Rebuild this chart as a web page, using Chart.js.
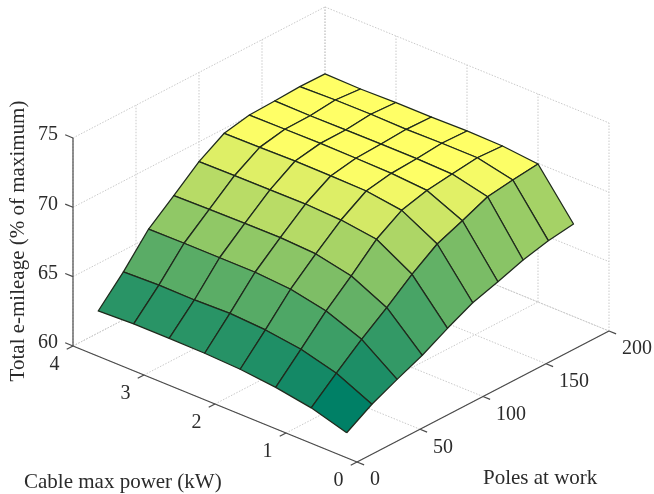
<!DOCTYPE html>
<html>
<head>
<meta charset="utf-8">
<title>Total e-mileage surface</title>
<script src="https://cdn.jsdelivr.net/npm/chart.js@4"></script>
<style>
    html, body { margin: 0; padding: 0; background: #fff; }
    canvas { display: block; }
</style>
</head>
<body>
<canvas id="surface-graph" width="654" height="494"></canvas>
<script>
const polesAtWork = [20, 40, 60, 80, 100, 120, 140, 160, 180, 200]
const cablePower = [0.5, 1, 1.5, 2, 2.5, 3, 3.5, 4]

// one row per cable power, one column per poles value
const power05 = [60.12, 61.23, 62.08, 62.87, 63.87, 64.77, 65.34, 65.96, 66.41, 66.67]
const power10 = [60.87, 62.42, 63.92, 65.26, 66.72, 67.96, 68.69, 69.48, 69.74, 69.95]
const power15 = [61.30, 63.10, 64.92, 66.50, 68.20, 69.34, 69.83, 70.07, 70.30, 70.20]
const power20 = [61.56, 63.45, 65.44, 67.04, 68.54, 69.69, 70.02, 70.13, 70.30, 70.24]
const power25 = [61.67, 63.60, 65.62, 67.17, 68.65, 69.73, 70.06, 70.14, 70.26, 70.20]
const power30 = [61.70, 63.52, 65.62, 67.16, 68.62, 69.76, 70.09, 70.11, 70.30, 70.20]
const power35 = [61.69, 63.55, 65.62, 67.12, 68.60, 69.70, 70.06, 70.09, 70.28, 70.13]
const power40 = [61.58, 63.45, 65.60, 67.06, 68.57, 69.67, 70.04, 70.11, 70.20, 70.17]
const mileage = [power05, power10, power15, power20, power25, power30, power35, power40]

const polesTicks = [0, 50, 100, 150, 200]
const powerTicks = [0, 1, 2, 3, 4]
const mileageTicks = [60, 65, 70, 75]

const polesTitle = "Poles at work"
const powerTitle = "Cable max power (kW)"
const mileageTitle = "Total e-mileage (% of maximum)"

const font = '"Liberation Serif", "Times New Roman", serif'

// orthographic view of the 3D box, chart units are canvas pixels
function project(poles, power, z) {
    return {
        x: 357 + poles * 1.26 - power * 71,
        y: 462 - poles * 0.655 - power * 29 - (z - 60) * 13.87
    }
}

// matlab "summer" colormap, the top of the surface saturates to plain yellow
function summer(z, zMin, zMax) {
    let t = Math.min(1, (z - zMin) / (zMax - zMin))
    return `rgb(${Math.round(255 * t)}, ${Math.round(127.5 + 127.5 * t)}, 102)`
}

function lineSet(points, color, width, dash) {
    return {
        data: points,
        showLine: true,
        fill: false,
        pointRadius: 0,
        borderColor: color,
        borderWidth: width,
        borderDash: dash || [],
        borderCapStyle: "butt",
        tension: 0
    }
}

function gridLine(a, b) {
    return lineSet([project(...a), project(...b)], "#c9c9c9", 1, [1.5, 1.5])
}

function axisLine(a, b) {
    return lineSet([project(...a), project(...b)], "#4a4a4a", 1.2)
}

function buildGrid() {
    let sets = []
    mileageTicks.forEach((z) => {
        sets.push(gridLine([0, 4, z], [200, 4, z]))
        sets.push(gridLine([200, 4, z], [200, 0, z]))
    })
    polesTicks.forEach((p) => {
        sets.push(gridLine([p, 0, 60], [p, 4, 60]))
        sets.push(gridLine([p, 4, 60], [p, 4, 75]))
    })
    powerTicks.forEach((w) => {
        sets.push(gridLine([0, w, 60], [200, w, 60]))
        sets.push(gridLine([200, w, 60], [200, w, 75]))
    })
    return sets
}

function buildAxes() {
    let sets = [
        axisLine([0, 0, 60], [200, 0, 60]),
        axisLine([0, 0, 60], [0, 4, 60]),
        axisLine([0, 4, 60], [0, 4, 75])
    ]
    polesTicks.forEach((p) => sets.push(axisLine([p, 0, 60], [p, -0.1, 60])))
    powerTicks.forEach((w) => sets.push(axisLine([0, w, 60], [-5, w, 60])))
    mileageTicks.forEach((z) => sets.push(axisLine([0, 4, z], [0, 4.11, z])))
    return sets
}

function buildSurface() {
    let zMin = Math.min(...mileage.flat())
    let colorTop = 69.85
    let cells = []

    // back corner first so nearer cells paint over it
    for (let j = cablePower.length - 2; j >= 0; j--) {
        for (let i = polesAtWork.length - 2; i >= 0; i--) {
            let corners = [[i, j], [i + 1, j], [i + 1, j + 1], [i, j + 1], [i, j]]
            let cell = lineSet(
                corners.map(([a, b]) => project(polesAtWork[a], cablePower[b], mileage[b][a])),
                "#1f2a1c",
                1.3
            )
            cell.fill = "shape"
            cell.backgroundColor = summer(mileage[j][i], zMin, colorTop)
            cell.borderJoinStyle = "round"
            cells.push(cell)
        }
    }
    return cells
}

const textLabels = {
    id: "textLabels",
    afterDraw(chart) {
        let ctx = chart.ctx
        let sx = chart.scales.x, sy = chart.scales.y

        function put(text, pos, dx, dy, align) {
            ctx.textAlign = align
            ctx.fillText(text, sx.getPixelForValue(pos.x) + dx, sy.getPixelForValue(pos.y) + dy)
        }

        ctx.save()
        ctx.fillStyle = "#2b2b2b"
        ctx.textBaseline = "middle"
        ctx.font = `20px ${font}`

        mileageTicks.forEach((z) => put(String(z), project(0, 4, z), -15, -3, "right"))
        powerTicks.forEach((w) => put(String(w), project(0, w, 60), -18.5, 19, "center"))
        polesTicks.forEach((p) => put(String(p), project(p, 0, 60), 13, 18, "left"))

        ctx.font = `21px ${font}`
        ctx.textAlign = "left"
        ctx.fillText(powerTitle, 24, 482)
        ctx.fillText(polesTitle, 483, 478)

        ctx.translate(18, 241)
        ctx.rotate(-Math.PI / 2)
        ctx.textAlign = "center"
        ctx.fillText(mileageTitle, 0, 0)
        ctx.restore()
    }
}

// chart.js paints the first dataset last
let paintOrder = [...buildGrid(), ...buildAxes(), ...buildSurface()].reverse()

new Chart(document.getElementById("surface-graph").getContext("2d"), {
    type: "scatter",
    data: { datasets: paintOrder },
    options: {
        responsive: false,
        animation: false,
        layout: { padding: 0 },
        plugins: {
            legend: { display: false },
            tooltip: { enabled: false }
        },
        scales: {
            x: { type: "linear", min: 0, max: 654, display: false },
            y: { type: "linear", min: 0, max: 494, reverse: true, display: false }
        }
    },
    plugins: [textLabels]
})
</script>
</body>
</html>
